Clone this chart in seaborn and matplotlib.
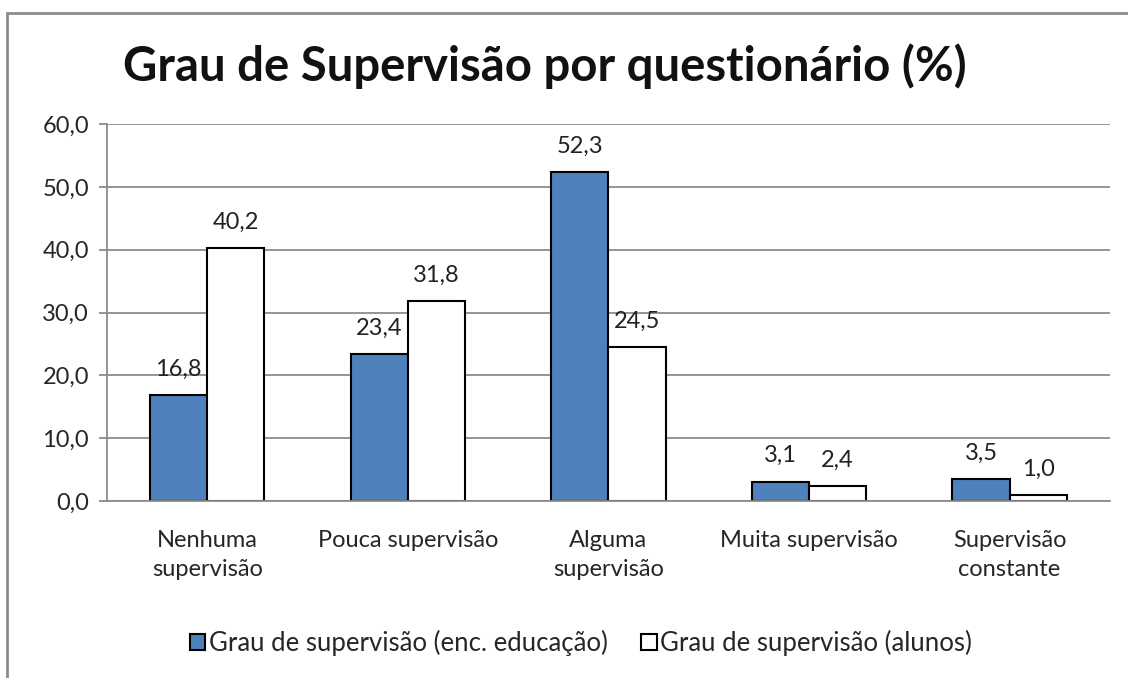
import numpy as np
import pandas as pd
import seaborn as sns
import matplotlib.pyplot as plt
from matplotlib.patches import Rectangle

categorias = ["Nenhuma\nsupervisão", "Pouca supervisão", "Alguma\nsupervisão",
              "Muita supervisão", "Supervisão\nconstante"]
series = ["Grau de supervisão (enc. educação)", "Grau de supervisão (alunos)"]
enc_educacao = [16.8, 23.4, 52.3, 3.1, 3.5]
alunos = [40.2, 31.8, 24.5, 2.4, 1.0]
y_ticks = [0, 10, 20, 30, 40, 50, 60]

df = pd.DataFrame({
    "categoria": categorias * 2,
    "serie": [series[0]] * 5 + [series[1]] * 5,
    "valor": enc_educacao + alunos,
})

sns.set_style("white")
plt.rcParams['font.family'] = ['Lato', 'DejaVu Sans']

fig = plt.figure(figsize=(11.28, 6.78), dpi=100)
ax = fig.add_axes([0.0949, 0.261, 0.889, 0.556])

sns.barplot(data=df, x="categoria", y="valor", hue="serie", order=categorias,
            hue_order=series, palette=["#4F81BD", "#FFFFFF"], width=0.57,
            edgecolor="black", linewidth=1.5, saturation=1, ax=ax)

for cont in ax.containers:
    ax.bar_label(cont, labels=[f"{v:.1f}".replace(".", ",") for v in cont.datavalues],
                 padding=11, fontsize=17, color="#222222")

ax.set_ylim(0, 60)
ax.set_xlim(-0.5, 4.5)
ax.set_yticks(y_ticks)
ax.set_yticklabels([f"{v:.1f}".replace(".", ",") for v in y_ticks], fontsize=17)
ax.yaxis.grid(True, color="#8c8c8c", linewidth=1.3)
ax.set_axisbelow(True)
ax.set_xlabel("")
ax.set_ylabel("")

# labels centred, tick marks on the boundaries between categories
ax.set_xticks(range(5))
ax.set_xticklabels(categorias, fontsize=17, linespacing=1.45)
ax.set_xticks(np.arange(-0.5, 5, 1), minor=True)
ax.tick_params(axis="x", which="major", length=0, pad=21)
ax.tick_params(axis="x", which="minor", length=6, width=1.3, color="#8c8c8c", direction="out")
ax.tick_params(axis="y", length=6, width=1.3, color="#8c8c8c", direction="out", pad=7, left=True)

for s in ["top", "right"]:
    ax.spines[s].set_visible(False)
for s in ["left", "bottom"]:
    ax.spines[s].set_color("#8c8c8c")
    ax.spines[s].set_linewidth(1.3)

fig.text(0.483, 0.902, "Grau de Supervisão por questionário (%)", ha="center", va="center",
         fontsize=34, fontweight="bold", color="#111111")

handles, labels = ax.get_legend_handles_labels()
ax.legend_.remove()
fig.legend(handles, labels, loc="center", bbox_to_anchor=(0.515, 0.052), ncol=2,
           frameon=False, fontsize=18.5, handlelength=0.6, handleheight=0.6,
           handletextpad=0.15, columnspacing=1.3)

fig.patches.append(Rectangle((7 / 1128, -0.1), 1.2, 1 - 13 / 678 + 0.1,
                             transform=fig.transFigure, fill=False,
                             edgecolor="#8c8c8c", linewidth=2))

fig.savefig("out.png", dpi=100)
